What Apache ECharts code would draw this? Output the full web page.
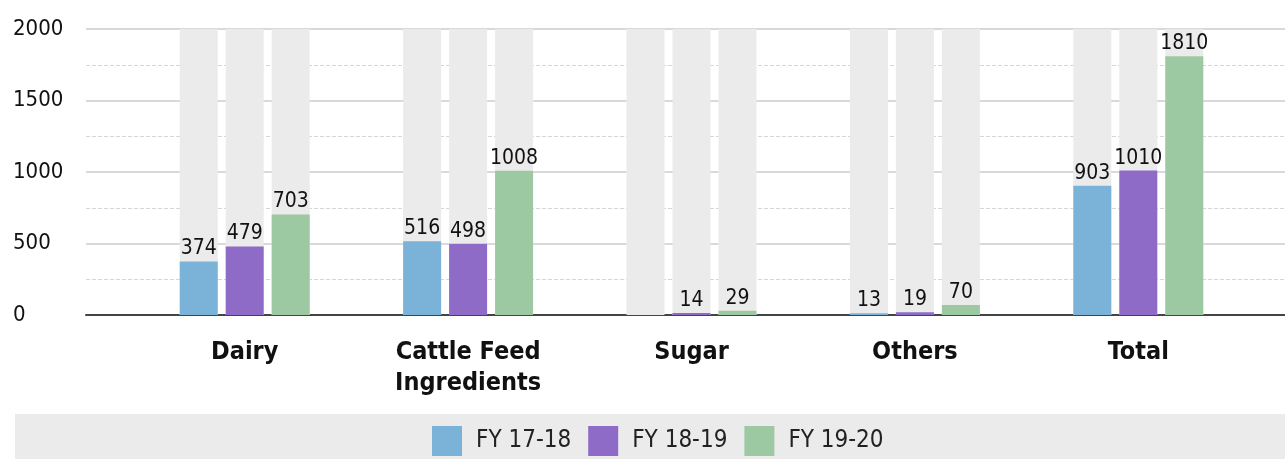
<!DOCTYPE html>
<html>
<head>
<meta charset="utf-8">
<script src="https://cdn.jsdelivr.net/npm/echarts@6/dist/echarts.min.js"></script>
<style>
html,body{margin:0;padding:0;background:#fff;}
#chart{width:1285px;height:459px;}
</style>
</head>
<body>
<div id="chart"></div>
<script>
const categories = ['Dairy', 'Cattle Feed\nIngredients', 'Sugar', 'Others', 'Total'];
const seriesNames = ['FY 17-18', 'FY 18-19', 'FY 19-20'];
const fy1718 = [374, 516, 0, 13, 903];
const fy1819 = [479, 498, 14, 19, 1010];
const fy1920 = [703, 1008, 29, 70, 1810];
const yTicks = [0, 500, 1000, 1500, 2000];

const colors = ['#7bb2d7', '#8e6bc6', '#9dc9a2'];
const FONT = '"DejaVu Sans Condensed", "DejaVu Sans", sans-serif';

const chart = echarts.init(document.getElementById('chart'), null, {renderer: 'canvas'});

function barSeries(name, data, color) {
  return {
    name: name,
    type: 'bar',
    xAxisIndex: 1,
    yAxisIndex: 1,
    data: data,
    barWidth: 38,
    barGap: '21%',
    itemStyle: {color: color},
    showBackground: true,
    backgroundStyle: {color: '#ebebeb'},
    label: {
      show: true,
      position: 'top',
      distance: 2,
      color: '#111',
      fontFamily: FONT,
      fontSize: 21,
      formatter: p => (p.value === 0 ? '' : String(p.value))
    }
  };
}

chart.setOption({
  animation: false,
  textStyle: {fontFamily: FONT},
  graphic: [{
    type: 'rect',
    left: 15, top: 414,
    shape: {width: 1270, height: 45},
    style: {fill: '#ebebeb'},
    z: -10
  }],
  legend: {
    data: seriesNames,
    left: 427,
    top: 421,
    icon: 'rect',
    itemWidth: 30,
    itemHeight: 30,
    itemGap: 17,
    textStyle: {fontFamily: FONT, fontSize: 24, color: '#222', padding: [0, 0, 0, 9]}
  },
  grid: [
    {left: 86, right: 0, top: 29, bottom: 144},
    {left: 133, right: 35, top: 29, bottom: 144}
  ],
  xAxis: [
    {
      gridIndex: 0, type: 'category', data: [''],
      axisLine: {show: true, lineStyle: {color: '#444', width: 2}},
      axisTick: {show: false}, axisLabel: {show: false}, splitLine: {show: false}
    },
    {
      gridIndex: 1, type: 'category', data: categories,
      axisLine: {show: false}, axisTick: {show: false},
      axisLabel: {
        margin: 22, fontFamily: FONT, fontSize: 25, fontWeight: 'bold',
        color: '#111', lineHeight: 31, interval: 0
      }
    }
  ],
  yAxis: [
    {
      gridIndex: 0, type: 'value', min: yTicks[0], max: yTicks[yTicks.length - 1], interval: 500,
      axisLine: {show: false}, axisTick: {show: false},
      axisLabel: {
        align: 'left', margin: 73, fontFamily: FONT, fontSize: 22, color: '#111',
        formatter: v => (yTicks.indexOf(v) >= 0 ? String(v) : '')
      },
      splitLine: {show: true, lineStyle: {color: '#cccccc', width: 1.5}},
      minorTick: {show: false, splitNumber: 2},
      minorSplitLine: {show: true, lineStyle: {color: '#d6d6d6', type: 'dashed', width: 1}}
    },
    {
      gridIndex: 1, type: 'value', min: yTicks[0], max: yTicks[yTicks.length - 1], show: false,
      splitLine: {show: false}
    }
  ],
  series: [
    barSeries(seriesNames[0], fy1718, colors[0]),
    barSeries(seriesNames[1], fy1819, colors[1]),
    barSeries(seriesNames[2], fy1920, colors[2])
  ]
});
</script>
</body>
</html>
